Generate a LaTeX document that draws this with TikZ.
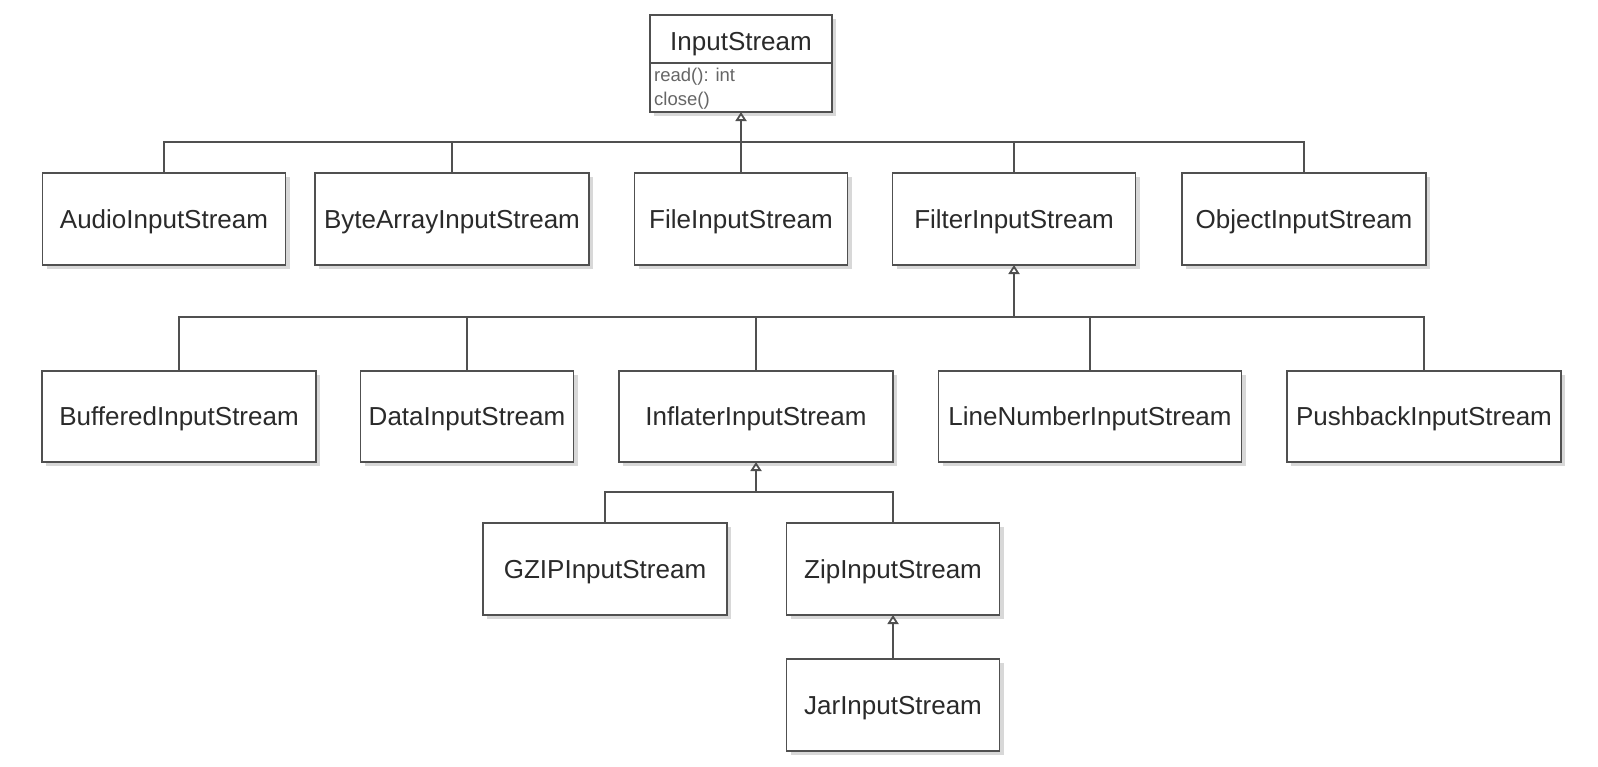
\documentclass[tikz,border=0pt]{standalone}
\usepackage{fontspec}
\setmainfont{Liberation Sans}
\usetikzlibrary{arrows.meta,shadows}
\definecolor{ln}{HTML}{505050}
\definecolor{tx}{HTML}{2A2A2A}
\definecolor{sm}{HTML}{666666}
\tikzset{
  cls/.style={draw=ln, line width=1.8pt, fill=white, inner sep=0pt, outer sep=0pt,
    text=tx, font=\fontsize{26}{30}\selectfont, text height=18.6pt, text depth=0pt,
    drop shadow={shadow xshift=4pt, shadow yshift=-4pt, fill=black!30}},
  conn/.style={draw=ln, line width=1.8pt},
  inh/.style={draw=ln, line width=1.8pt, -{Triangle[open, width=11pt, length=9pt, fill=white]}},
  attr/.style={text=sm, font=\fontsize{18.5}{20}\selectfont, inner sep=0pt, anchor=west}
}
\begin{document}
\begin{tikzpicture}[x=1pt,y=-1pt]
\useasboundingbox (0,0) rectangle (1598,766);
% InputStream
\node[cls, minimum width=182, minimum height=97] (is) at (741,63.5) {};
\node[text=tx, font=\fontsize{26}{30}\selectfont, inner sep=0pt, text height=18.6pt, text depth=0pt] (ist) at (741,41) {InputStream};
\draw[conn] (is.west |- 0,63) -- (is.east |- 0,63);
\node[attr] (a1) at (654,77) {read(): int};
\node[attr] (a2) at (654,101) {close()};
% row 1
\node[cls, minimum width=243, minimum height=92] (audio) at (164,219) {AudioInputStream};
\node[cls, minimum width=274, minimum height=92] (bytearr) at (452,219) {ByteArrayInputStream};
\node[cls, minimum width=213, minimum height=92] (file) at (741,219) {FileInputStream};
\node[cls, minimum width=243, minimum height=92] (filter) at (1014,219) {FilterInputStream};
\node[cls, minimum width=244, minimum height=92] (object) at (1304,219) {ObjectInputStream};
% row 2
\node[cls, minimum width=274, minimum height=91] (buffered) at (179,416.5) {BufferedInputStream};
\node[cls, minimum width=213, minimum height=91] (data) at (467,416.5) {DataInputStream};
\node[cls, minimum width=274, minimum height=91] (inflater) at (756,416.5) {InflaterInputStream};
\node[cls, minimum width=303, minimum height=91] (linenum) at (1090,416.5) {LineNumberInputStream};
\node[cls, minimum width=274, minimum height=91] (pushback) at (1424,416.5) {PushbackInputStream};
% row 3
\node[cls, minimum width=244, minimum height=92] (gzip) at (605,569) {GZIPInputStream};
\node[cls, minimum width=213, minimum height=92] (zip) at (893,569) {ZipInputStream};
% row 4
\node[cls, minimum width=213, minimum height=92] (jar) at (893,705) {JarInputStream};
% buses
\coordinate (bus1) at (741,142);
\coordinate (bus2) at (1014,317);
\coordinate (bus3) at (756,492);
\foreach \c in {audio,bytearr,file,filter,object} \draw[conn] (\c.north) |- (bus1);
\draw[inh] (bus1) -- (is.south);
\foreach \c in {buffered,data,inflater,linenum,pushback} \draw[conn] (\c.north) |- (bus2);
\draw[inh] (bus2) -- (filter.south);
\foreach \c in {gzip,zip} \draw[conn] (\c.north) |- (bus3);
\draw[inh] (bus3) -- (inflater.south);
\draw[inh] (jar.north) -- (zip.south);
\end{tikzpicture}
\end{document}
